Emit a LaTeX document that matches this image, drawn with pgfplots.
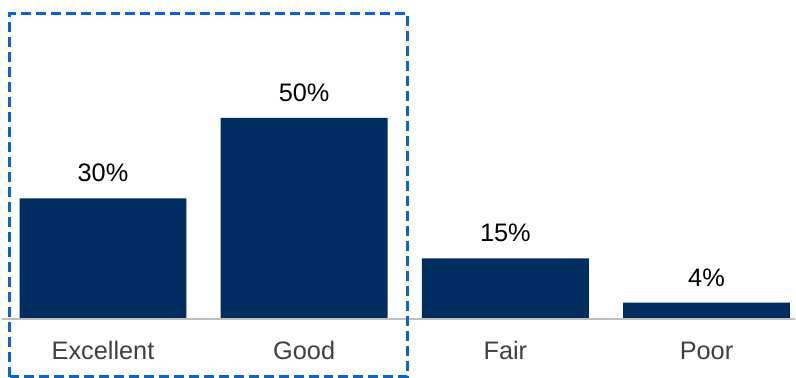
\documentclass[border=0pt]{standalone}
\usepackage{pgfplots}
\pgfplotsset{compat=1.18}
\usepackage{fontspec}
\setmainfont{Liberation Sans}
\definecolor{barblue}{HTML}{002D5F}
\definecolor{boxblue}{HTML}{0A64D2}
\definecolor{basegray}{HTML}{BFBFBF}
\definecolor{labgray}{HTML}{404040}
\begin{document}
\begin{tikzpicture}
\begin{axis}[
  scale only axis,
  width=597pt, height=283.5pt,
  xmin=-0.512, xmax=3.440, ymin=-14.68, ymax=79.35,
  axis line style={draw=none},
  /pgf/number format/assume math mode=true,
  ytick=\empty,
  xtick={0,1,2,3},
  xticklabels={Excellent,Good,Fair,Poor},
  major tick length=0pt,
  xticklabel style={anchor=base, yshift=13.5pt, font=\fontsize{19}{22}\selectfont, text=labgray},
  clip=false,
]
\addplot[ybar, bar width=0.83, bar shift=0pt, fill=barblue, draw=none,
  nodes near coords={\pgfmathprintnumber{\pgfplotspointmeta}\%},
  nodes near coords style={anchor=base, yshift=12.5pt, font=\fontsize{19}{22}\selectfont, text=black},
] coordinates {(0,30) (1,50) (2,15) (3,4)};
\addplot[sharp plot, basegray, line width=1.5pt, forget plot] coordinates {(-0.50,0) (3.44,0)};
\draw[boxblue, line width=2pt, dash pattern=on 7.5pt off 3.75pt] (axis cs:-0.4645,-14.43) rectangle (axis cs:1.5127,76.1);
\end{axis}
\end{tikzpicture}
\end{document}
